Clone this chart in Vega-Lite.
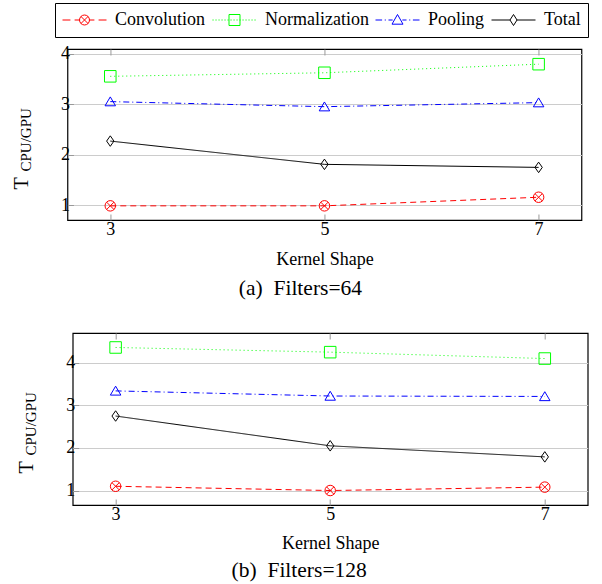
{
  "$schema": "https://vega.github.io/schema/vega-lite/v6.json",
  "background": "white",
  "padding": {"left": 10, "top": 2, "right": 4, "bottom": 2},
  "data": {"values": [
    {"panel": "a", "kernel": 3, "series": "Convolution", "value": 0.99},
    {"panel": "a", "kernel": 5, "series": "Convolution", "value": 0.99},
    {"panel": "a", "kernel": 7, "series": "Convolution", "value": 1.16},
    {"panel": "a", "kernel": 3, "series": "Normalization", "value": 3.55},
    {"panel": "a", "kernel": 5, "series": "Normalization", "value": 3.62},
    {"panel": "a", "kernel": 7, "series": "Normalization", "value": 3.79},
    {"panel": "a", "kernel": 3, "series": "Pooling", "value": 3.05},
    {"panel": "a", "kernel": 5, "series": "Pooling", "value": 2.95},
    {"panel": "a", "kernel": 7, "series": "Pooling", "value": 3.03},
    {"panel": "a", "kernel": 3, "series": "Total", "value": 2.27},
    {"panel": "a", "kernel": 5, "series": "Total", "value": 1.81},
    {"panel": "a", "kernel": 7, "series": "Total", "value": 1.75},
    {"panel": "b", "kernel": 3, "series": "Convolution", "value": 1.10},
    {"panel": "b", "kernel": 5, "series": "Convolution", "value": 1.00},
    {"panel": "b", "kernel": 7, "series": "Convolution", "value": 1.08},
    {"panel": "b", "kernel": 3, "series": "Normalization", "value": 4.36},
    {"panel": "b", "kernel": 5, "series": "Normalization", "value": 4.25},
    {"panel": "b", "kernel": 7, "series": "Normalization", "value": 4.10},
    {"panel": "b", "kernel": 3, "series": "Pooling", "value": 3.34},
    {"panel": "b", "kernel": 5, "series": "Pooling", "value": 3.22},
    {"panel": "b", "kernel": 7, "series": "Pooling", "value": 3.21},
    {"panel": "b", "kernel": 3, "series": "Total", "value": 2.75},
    {"panel": "b", "kernel": 5, "series": "Total", "value": 2.05},
    {"panel": "b", "kernel": 7, "series": "Total", "value": 1.79}
  ]},
  "config": {
    "font": "Liberation Serif",
    "view": {"stroke": "black", "strokeWidth": 1.2},
    "axis": {
      "labelFont": "Liberation Serif", "labelFontSize": 18, "labelColor": "black",
      "titleFont": "Liberation Serif", "titleFontSize": 18, "titleFontWeight": "normal", "titleColor": "black",
      "domain": false, "tickColor": "#999999", "tickSize": -6, "gridColor": "#cccccc"
    },
    "axisX": {"labelPadding": 6},
    "axisY": {"labelPadding": 4},
    "legend": {
      "labelFont": "Liberation Serif", "labelFontSize": 18, "labelColor": "black",
      "symbolStrokeWidth": 1, "symbolSize": 1936
    },
    "title": {"font": "Liberation Serif", "fontSize": 21.5, "fontWeight": "normal", "color": "black"}
  },
  "spacing": 30,
  "center": true,
  "vconcat": [
    {
      "width": 514, "height": 171,
      "title": {"text": "(a)\u00a0 Filters=64", "orient": "bottom", "offset": 10, "dx": -24},
      "transform": [{"filter": "datum.panel == 'a'"}],
      "layer": [
        {
          "mark": {"type": "line", "strokeWidth": 1},
          "encoding": {
            "x": {"field": "kernel", "type": "quantitative", "scale": {"domain": [2.6, 7.4], "nice": false, "zero": false},
                  "axis": {"values": [3, 5, 7], "title": "Kernel Shape", "grid": false, "titlePadding": 12}},
            "y": {"field": "value", "type": "quantitative", "scale": {"domain": [0.71, 4.09], "nice": false, "zero": false},
                  "axis": {"values": [1, 2, 3, 4], "grid": true, "title": "T", "titleFontSize": 20,
                           "titleAngle": 270, "titleAlign": "left", "titleBaseline": "alphabetic", "titleX": -40, "titleY": 140}},
            "color": {"field": "series", "type": "nominal",
                      "scale": {"domain": ["Convolution", "Normalization", "Pooling", "Total"], "range": ["#ff0000", "#00ff00", "#0000ff", "#000000"]},
                      "legend": {
                        "orient": "none", "legendX": -12, "legendY": -46, "direction": "horizontal", "title": null,
                        "strokeColor": "black", "padding": 7, "clipHeight": 20, "labelOffset": 8, "columnPadding": 6,
                        "encoding": {"symbols": {
                          "shape": {"value": {"expr": "datum.value === 'Convolution' ? 'M-1,0H-0.64M-0.45,0H-0.227M0.227,0H0.45M0.64,0H1M-0.227,0A0.227,0.227 0 1,0 0.227,0A0.227,0.227 0 1,0 -0.227,0M-0.16,-0.16L0.16,0.16M-0.16,0.16L0.16,-0.16' : datum.value === 'Normalization' ? 'M-1,0h0.05M-0.864,0h0.05M-0.727,0h0.05M-0.591,0h0.05M-0.455,0h0.05M-0.318,0h0.05M-0.182,0h0.05M-0.045,0h0.05M0.091,0h0.05M0.227,0h0.05M0.364,0h0.05M0.5,0h0.05M0.636,0h0.05M0.773,0h0.05M0.909,0h0.05M-0.25,-0.25H0.25V0.25H-0.25Z' : datum.value === 'Pooling' ? 'M-1,0H-0.7M-0.58,0H-0.53M-0.41,0H-0.22M0.22,0H0.41M0.53,0H0.58M0.7,0H1M-0.25,0.19L0,-0.25L0.25,0.19Z' : 'M-1,0H-0.16M0.16,0H1M0,-0.25L0.16,0L0,0.25L-0.16,0Z'"}},
                          "fill": {"value": "transparent"},
                          "size": {"value": 1936},
                          "strokeWidth": {"value": 1}
                        }}
                      }},
            "strokeDash": {"field": "series", "type": "nominal",
                           "scale": {"domain": ["Total", "Pooling", "Normalization", "Convolution"], "range": [[1, 0], [6, 3, 1, 3], [1, 3], [6, 4]]},
                           "legend": null}
          }
        },
        {
          "mark": {"type": "point", "filled": false, "size": 110, "strokeWidth": 1, "opacity": 1},
          "encoding": {
            "x": {"field": "kernel", "type": "quantitative", "scale": {"domain": [2.6, 7.4], "nice": false, "zero": false},
                  "axis": {"orient": "top", "values": [3, 5, 7], "labels": false, "title": null, "grid": false}},
            "y": {"field": "value", "type": "quantitative", "scale": {"domain": [0.71, 4.09], "nice": false, "zero": false},
                  "axis": {"orient": "left", "values": [1, 2, 3, 4], "labels": false, "ticks": false, "grid": false, "title": "CPU/GPU",
                           "titleFontSize": 15, "titleAngle": 270, "titleAlign": "left", "titleBaseline": "alphabetic",
                           "titleX": -37, "titleY": 122}},
            "color": {"field": "series", "type": "nominal",
                      "scale": {"domain": ["Convolution", "Normalization", "Pooling", "Total"], "range": ["#ff0000", "#00ff00", "#0000ff", "#000000"]}},
            "shape": {"field": "series", "type": "nominal",
                      "scale": {"domain": ["Total", "Pooling", "Normalization", "Convolution"],
                                "range": ["M0,-1L0.7,0L0,1L-0.7,0Z", "M-1,0.8L0,-0.9L1,0.8Z", "M-1.1,-1.1H1.1V1.1H-1.1Z", "M-1,0A1,1 0 1,0 1,0A1,1 0 1,0 -1,0M-0.7,-0.7L0.7,0.7M-0.7,0.7L0.7,-0.7"]},
                      "legend": null}
          }
        },
        {
          "mark": {"type": "point", "opacity": 0},
          "encoding": {
            "x": {"field": "kernel", "type": "quantitative", "scale": {"domain": [2.6, 7.4], "nice": false, "zero": false}, "axis": null},
            "y": {"field": "value", "type": "quantitative", "scale": {"domain": [0.71, 4.09], "nice": false, "zero": false},
                  "axis": {"orient": "right", "values": [1, 2, 3, 4], "labels": false, "grid": false, "title": null, "domain": false,
                           "ticks": true, "tickSize": 11, "tickColor": "transparent"}}
          }
        }
      ],
      "resolve": {"axis": {"x": "independent", "y": "independent"}}
    },
    {
      "width": 515, "height": 172,
      "title": {"text": "(b)\u00a0 Filters=128", "orient": "bottom", "offset": 8, "dx": -31},
      "transform": [{"filter": "datum.panel == 'b'"}],
      "layer": [
        {
          "mark": {"type": "line", "strokeWidth": 1},
          "encoding": {
            "x": {"field": "kernel", "type": "quantitative", "scale": {"domain": [2.6, 7.4], "nice": false, "zero": false},
                  "axis": {"values": [3, 5, 7], "title": "Kernel Shape", "grid": false, "titlePadding": 11}},
            "y": {"field": "value", "type": "quantitative", "scale": {"domain": [0.66, 4.7], "nice": false, "zero": false},
                  "axis": {"values": [1, 2, 3, 4], "grid": true, "title": "T", "titleFontSize": 20,
                           "titleAngle": 270, "titleAlign": "left", "titleBaseline": "alphabetic", "titleX": -40, "titleY": 140}},
            "color": {"field": "series", "type": "nominal",
                      "scale": {"domain": ["Convolution", "Normalization", "Pooling", "Total"], "range": ["#ff0000", "#00ff00", "#0000ff", "#000000"]}},
            "strokeDash": {"field": "series", "type": "nominal",
                           "scale": {"domain": ["Total", "Pooling", "Normalization", "Convolution"], "range": [[1, 0], [6, 3, 1, 3], [1, 3], [6, 4]]},
                           "legend": null}
          }
        },
        {
          "mark": {"type": "point", "filled": false, "size": 110, "strokeWidth": 1, "opacity": 1},
          "encoding": {
            "x": {"field": "kernel", "type": "quantitative", "scale": {"domain": [2.6, 7.4], "nice": false, "zero": false},
                  "axis": {"orient": "top", "values": [3, 5, 7], "labels": false, "grid": false, "title": null}},
            "y": {"field": "value", "type": "quantitative", "scale": {"domain": [0.66, 4.7], "nice": false, "zero": false},
                  "axis": {"orient": "left", "values": [1, 2, 3, 4], "labels": false, "ticks": false, "grid": false, "title": "CPU/GPU",
                           "titleFontSize": 15, "titleAngle": 270, "titleAlign": "left", "titleBaseline": "alphabetic",
                           "titleX": -37, "titleY": 122}},
            "color": {"field": "series", "type": "nominal",
                      "scale": {"domain": ["Convolution", "Normalization", "Pooling", "Total"], "range": ["#ff0000", "#00ff00", "#0000ff", "#000000"]}},
            "shape": {"field": "series", "type": "nominal",
                      "scale": {"domain": ["Total", "Pooling", "Normalization", "Convolution"],
                                "range": ["M0,-1L0.7,0L0,1L-0.7,0Z", "M-1,0.8L0,-0.9L1,0.8Z", "M-1.1,-1.1H1.1V1.1H-1.1Z", "M-1,0A1,1 0 1,0 1,0A1,1 0 1,0 -1,0M-0.7,-0.7L0.7,0.7M-0.7,0.7L0.7,-0.7"]},
                      "legend": null}
          }
        }
      ],
      "resolve": {"axis": {"x": "independent", "y": "independent"}}
    }
  ]
}
